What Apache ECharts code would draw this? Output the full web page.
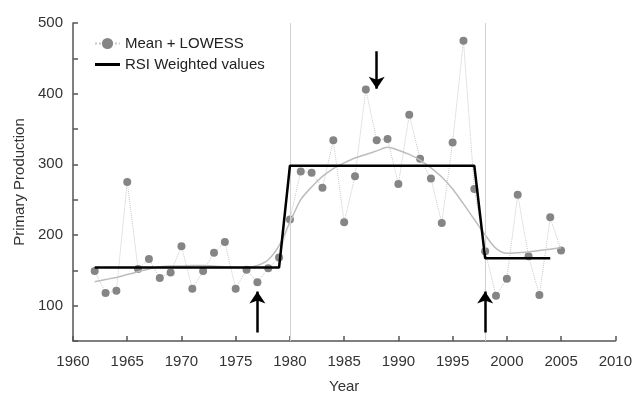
<!DOCTYPE html>
<html>
<head>
<meta charset="utf-8">
<script src="https://cdn.jsdelivr.net/npm/echarts@6/dist/echarts.min.js"></script>
<style>html,body{margin:0;padding:0;background:#fff}#c{width:635px;height:399px}</style>
</head>
<body>
<div id="c"></div>
<script>
var years = [1962,1963,1964,1965,1966,1967,1968,1969,1970,1971,1972,1973,1974,1975,1976,1977,1978,1979,1980,1981,1982,1983,1984,1985,1986,1987,1988,1989,1990,1991,1992,1993,1994,1995,1996,1997,1998,1999,2000,2001,2002,2003,2004,2005];
var meanValues = [149,118,121,275,152,166,139,147,184,124,149,175,190,124,151,133,153,168,222,290,288,267,334,218,283,406,334,336,272,370,308,280,217,331,475,265,177,114,138,257,170,115,225,178];
var lowessValues = [134,137,140,144,148,152,155,156,156,157,157,156,155,154,154,157,165,185,218,250,268,283,294,302,309,314,319,324,320,314,306,295,282,265,244,222,200,181,174,175,176,178,180,182];
var rsiYears = [1962,1979,1980,1997,1998,2004];
var rsiValues = [154,154,298,298,167,167];
var shiftYears = [1980,1998];
var arrowYears = [1977,1988,1998];
var arrowFrom = [62,460,62];
var arrowTo = [120,407,120];
var xMin = 1960, xMax = 2010, yMin = 50, yMax = 500;

var font = 'Liberation Sans, Arial, sans-serif';
var meanData = years.map(function(y,i){return [y, meanValues[i]];});
var lowessData = years.map(function(y,i){return [y, lowessValues[i]];});
var rsiData = rsiYears.map(function(y,i){return [y, rsiValues[i]];});
var arrowLines = arrowYears.map(function(y,i){return [{coord:[y, arrowFrom[i]]},{coord:[y, arrowTo[i]]}];});
var refLines = shiftYears.map(function(y){return {xAxis:y};});

var chart = echarts.init(document.getElementById('c'));
chart.setOption({
  animation:false,
  grid:{left:73,right:18,top:23,bottom:49},
  legend:{
    data:[
      {name:'Mean + LOWESS'},
      {name:'RSI Weighted values', icon:'path://M0,0 L25,0 M0,5.5 L25,5.5 L25,8.5 L0,8.5 Z M0,14 L25,14', itemStyle:{color:'#000',borderWidth:0}}
    ],
    orient:'vertical', left:89, top:31, itemWidth:25, itemHeight:14, itemGap:6,
    textStyle:{fontFamily:font,fontSize:15,color:'#222'}
  },
  xAxis:{
    type:'value', min:xMin, max:xMax, interval:5,
    name:'Year', nameLocation:'middle', nameGap:38,
    nameTextStyle:{fontFamily:font,fontSize:15,color:'#333'},
    axisLine:{show:true,onZero:false,lineStyle:{color:'#555',width:1.5}},
    axisTick:{show:true,inside:true,length:5,lineStyle:{color:'#555',width:1.5}},
    axisLabel:{fontFamily:font,fontSize:15,color:'#333',margin:13,formatter:function(v){return String(v);}},
    splitLine:{show:false}
  },
  yAxis:{
    type:'value', min:yMin, max:yMax, interval:50,
    name:'Primary Production', nameLocation:'middle', nameGap:46,
    nameTextStyle:{fontFamily:font,fontSize:15,color:'#333'},
    axisLine:{show:true,onZero:false,lineStyle:{color:'#555',width:1.5}},
    axisTick:{show:true,inside:true,length:5,lineStyle:{color:'#555',width:1.5}},
    axisLabel:{fontFamily:font,fontSize:15,color:'#333',margin:10,formatter:function(v){return v % 100 === 0 ? String(v) : '';}},
    splitLine:{show:false}
  },
  series:[
    {
      name:'Mean + LOWESS', type:'line', data:meanData, symbol:'circle', symbolSize:8,
      itemStyle:{color:'#858585'}, lineStyle:{color:'#c8c8c8',width:1,type:'dotted'}, z:3
    },
    {
      name:'LOWESS', type:'line', data:lowessData, smooth:0.3, showSymbol:false, symbol:'none',
      lineStyle:{color:'#bdbdbd',width:1.5}, z:4,
      markLine:{silent:true,symbol:['none','none'],label:{show:false},
        lineStyle:{color:'#d0d0d0',width:1,type:'solid'}, data:refLines}
    },
    {
      name:'RSI Weighted values', type:'line', data:rsiData, symbol:'none',
      itemStyle:{color:'#000'}, lineStyle:{color:'#000',width:2.5}, z:5,
      markLine:{silent:true,symbol:['none','arrow'],symbolSize:12,label:{show:false},
        lineStyle:{color:'#000',width:2.5,type:'solid'}, data:arrowLines}
    }
  ]
});
</script>
</body>
</html>
